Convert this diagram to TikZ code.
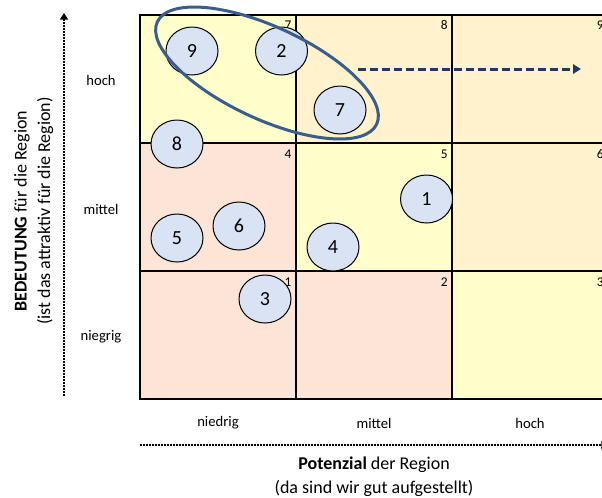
\documentclass[tikz,border=0pt]{standalone}
\usepackage{fontspec}
\setmainfont{Carlito}
\usetikzlibrary{shapes.geometric,arrows.meta}

\definecolor{cellYellow}{RGB}{255,255,204}
\definecolor{cellOrange}{RGB}{255,242,204}
\definecolor{cellPink}{RGB}{252,228,214}
\definecolor{bubbleBlue}{RGB}{218,227,243}
\definecolor{ringBlue}{RGB}{58,93,140}
\definecolor{trendNavy}{RGB}{32,56,100}

\tikzset{every picture/.style={line width=0.75pt}}
\tikzset{
	cellbox/.style={draw=black, line width=1.5pt},
	cellno/.style={anchor=east, inner sep=0pt, font=\fontsize{10}{12}\selectfont},
	bubble/.style={ellipse, draw=black, line width=0.75pt, fill=bubbleBlue, minimum width=39pt, minimum height=36pt, inner sep=0pt, font=\fontsize{15}{18}\selectfont},
	grid label/.style={inner sep=0pt, font=\fontsize{11}{13}\selectfont},
	axis title/.style={inner sep=0pt, font=\fontsize{13.5}{16}\selectfont},
	dotted axis/.style={line width=1.5pt, dash pattern=on 1.2pt off 1.05pt, -{Triangle[length=5pt, width=6pt]}},
	ring/.style={draw=ringBlue, line width=2.25pt},
	trend/.style={draw=trendNavy, line width=2.25pt, dash pattern=on 6pt off 3pt, -{Triangle[length=6pt, width=7pt]}}
}

\begin{document}
\begin{tikzpicture}[x=0.75pt,y=0.75pt,yscale=-1,xscale=1]
	\useasboundingbox (0,0) rectangle (602,497);
	\clip (0,0) rectangle (602,497);

	%Shape: Rectangle [cell 7]
	\draw [cellbox, fill=cellYellow] (140,15) rectangle (296,143);
	%Shape: Rectangle [cell 8]
	\draw [cellbox, fill=cellOrange] (296,15) rectangle (452,143);
	%Shape: Rectangle [cell 9]
	\draw [cellbox, fill=cellOrange] (452,15) rectangle (608,143);
	%Shape: Rectangle [cell 4]
	\draw [cellbox, fill=cellPink] (140,143) rectangle (296,271);
	%Shape: Rectangle [cell 5]
	\draw [cellbox, fill=cellYellow] (296,143) rectangle (452,271);
	%Shape: Rectangle [cell 6]
	\draw [cellbox, fill=cellOrange] (452,143) rectangle (608,271);
	%Shape: Rectangle [cell 1]
	\draw [cellbox, fill=cellPink] (140,271) rectangle (296,399);
	%Shape: Rectangle [cell 2]
	\draw [cellbox, fill=cellPink] (296,271) rectangle (452,399);
	%Shape: Rectangle [cell 3]
	\draw [cellbox, fill=cellYellow] (452,271) rectangle (608,399);

	% Cell numbers
	\node [cellno] (no7) at (292,25) {7};
	\node [cellno] (no8) at (448,25) {8};
	\node [cellno] (no9) at (604,25) {9};
	\node [cellno] (no4) at (292,154) {4};
	\node [cellno] (no5) at (448,154) {5};
	\node [cellno] (no6) at (604,154) {6};
	\node [cellno] (no1) at (292,282) {1};
	\node [cellno] (no2) at (448,282) {2};
	\node [cellno] (no3) at (604,282) {3};

	% Bubbles
	\node [bubble] (b9) at (192,51) {9};
	\node [bubble] (b2) at (281.5,51) {2};
	\node [bubble] (b7) at (340,110) {7};
	\node [bubble] (b8) at (177,144) {8};
	\node [bubble] (b5) at (177,238) {5};
	\node [bubble] (b6) at (239,226) {6};
	\node [bubble] (b1) at (426.5,199) {1};
	\node [bubble] (b4) at (333,247) {4};
	\node [bubble] (b3) at (265,299) {3};

	%Shape: Ellipse [group 9 2 7]
	\draw [ring, rotate around={25:(267,73)}] (267,73) ellipse [x radius=121, y radius=46];

	%Straight Lines [trend]
	\coordinate (trendS) at (358,69);
	\coordinate (trendE) at (581,69);
	\draw [trend] (trendS) -- (trendE);

	%Straight Lines [axes]
	\coordinate (yaxS) at (64,396);
	\coordinate (yaxE) at (64,13);
	\draw [dotted axis] (yaxS) -- (yaxE);
	\coordinate (xaxS) at (140,445);
	\coordinate (xaxE) at (608,445);
	\draw [dotted axis] (xaxS) -- (xaxE);

	% Text Node
	\node [grid label] (rowHi) at (101,80) {hoch};
	\node [grid label] (rowMid) at (101,209) {mittel};
	\node [grid label] (rowLo) at (101,337) {niegrig};
	\node [grid label] (colLo) at (218,423) {niedrig};
	\node [grid label] (colMid) at (374,423) {mittel};
	\node [grid label] (colHi) at (530,423) {hoch};

	% Text Node
	\node [axis title, rotate=90] (titleY) at (22,211) {\textbf{BEDEUTUNG} für die Region};
	\node [axis title, rotate=90] (subY) at (45,211) {(ist das attraktiv für die Region)};
	\node [axis title] (titleX) at (374,465) {\textbf{Potenzial} der Region};
	\node [axis title] (subX) at (374,488) {(da sind wir gut aufgestellt)};

\end{tikzpicture}
\end{document}
